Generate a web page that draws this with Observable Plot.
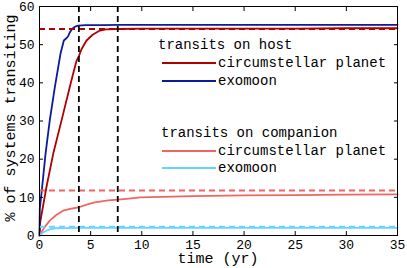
<!DOCTYPE html>
<html><head><meta charset="utf-8">
<script src="https://cdn.jsdelivr.net/npm/d3@7"></script>
<script src="https://cdn.jsdelivr.net/npm/@observablehq/plot@0.6"></script>
<style>body{margin:0;background:#fff}</style>
</head><body><div id="chart"></div>
<script>
// Time (yr) and % of systems transiting, per series
const hostMoonT = [0,0.03,0.26,0.59,1.0,1.5,2.05,2.38,2.6,2.8,2.96,3.15,3.36,3.55,3.77,4.5,6,8,10,15,20,25,30,35];
const hostMoonV = [0,7,12.7,21.4,30.1,38.9,47.6,51.1,51.6,52.2,53.2,54,54.5,54.8,55,55.1,55.1,55.2,55.2,55.2,55.2,55.2,55.2,55.2];
const hostPlanetT = [0,0.05,0.1,0.68,1.34,2.15,2.96,3.3,3.6,3.85,4.1,4.6,5.2,5.9,6.5,7.65,10,15,20,25,30,35];
const hostPlanetV = [0,3,4,12.7,21.4,30.1,38.9,42.5,45.6,47,48.8,51.1,52.6,53.7,54,54.1,54.2,54.2,54.2,54.2,54.3,54.3];
const compPlanetT = [0,0.5,1,1.6,2.3,3,3.85,4.6,5.4,6.7,7.65,8.5,9.87,12,15,20,25,30,35];
const compPlanetV = [0,2.2,3.9,5.3,6.5,7,7.4,8.1,8.7,9.2,9.4,9.6,10,10.1,10.3,10.5,10.6,10.7,10.8];
const compMoonT = [0,0.35,0.7,1.1,1.6,2.5,4,6,10,20,35];
const compMoonV = [0,0.8,1.3,1.7,1.9,1.95,2,2,2,2,2];

const seriesNames = ["circumstellar planet","exomoon","circumstellar planet","exomoon"];
const seriesColors = ["#b00000","#0c1a9c","#f06464","#66d4ff"];
const groupTitles = ["transits on host","transits on companion"];

const dashLevels = [54.1, 11.8, 2.3];
const dashColors = ["#b00000","#f06464","#66d4ff"];
const markTimes = [3.85, 7.65];

const xTicks = [0,5,10,15,20,25,30,35];
const yTicks = [0,10,20,30,40,50,60];

const zip = (T, V) => T.map((t, i) => ({t, v: V[i]}));
const series = [zip(hostPlanetT, hostPlanetV), zip(hostMoonT, hostMoonV), zip(compPlanetT, compPlanetV), zip(compMoonT, compMoonV)];
const dashData = dashLevels.map((v, i) => ({v, c: dashColors[i]}));

const font = "Liberation Mono, DejaVu Sans Mono, monospace";

const chart = Plot.plot({
  width: 407, height: 268,
  marginLeft: 39, marginRight: 10, marginTop: 6, marginBottom: 33,
  style: {fontFamily: font, fontSize: "13px", background: "#fff", color: "#000"},
  x: {domain: [0, 35]},
  y: {domain: [0, 60]},
  marks: [
    ...series.map((s, i) => Plot.line(s, {x: "t", y: "v", stroke: seriesColors[i], strokeWidth: 1.8})),
    Plot.ruleY(dashData, {y: "v", stroke: "c", strokeWidth: 2, strokeDasharray: "6,4"}),
    Plot.ruleX(markTimes, {stroke: "#000", strokeWidth: 1.8, strokeDasharray: "6,4"}),
    Plot.axisX({ticks: xTicks, tickSize: 0, tickPadding: 4, label: null}),
    Plot.axisY({ticks: yTicks, tickSize: 0, tickPadding: 5, label: null}),
    Plot.axisX({ticks: xTicks, tickSize: -4, tickFormat: () => "", label: null}),
    Plot.axisX({anchor: "top", ticks: xTicks, tickSize: -4, tickFormat: () => "", label: null}),
    Plot.axisY({ticks: yTicks, tickSize: -4, tickFormat: () => "", label: null}),
    Plot.axisY({anchor: "right", ticks: yTicks, tickSize: -4, tickFormat: () => "", label: null}),
    Plot.frame({stroke: "#000", strokeWidth: 1})
  ]
});

const svg = d3.select(chart);
// axis labels
svg.append("text").attr("x", 218).attr("y", 259.5).attr("text-anchor", "middle").attr("dominant-baseline", "middle")
  .attr("font-size", 15).attr("font-family", font).text("time (yr)");
svg.append("text").attr("transform", "translate(11,118) rotate(-90)").attr("text-anchor", "middle").attr("dominant-baseline", "middle")
  .attr("font-size", 15).attr("font-family", font).text("% of systems transiting");

// legend
const lg = svg.append("g").attr("font-family", font).attr("font-size", 14).attr("text-anchor", "start");
const titleX = [158, 161], titleY = [45, 133];
const rowY = [[63, 81], [151, 168]];
groupTitles.forEach((g, gi) => {
  lg.append("text").attr("x", titleX[gi]).attr("y", titleY[gi]).attr("text-anchor", "start").attr("dominant-baseline", "middle").text(g);
  [0, 1].forEach(r => {
    const si = gi * 2 + r;
    lg.append("line").attr("x1", 162).attr("x2", 216).attr("y1", rowY[gi][r]).attr("y2", rowY[gi][r])
      .attr("stroke", seriesColors[si]).attr("stroke-width", 2.2);
    lg.append("text").attr("x", 218).attr("y", rowY[gi][r]).attr("text-anchor", "start").attr("dominant-baseline", "middle").text(seriesNames[si]);
  });
});

document.getElementById("chart").appendChild(chart);
</script>
</body></html>
